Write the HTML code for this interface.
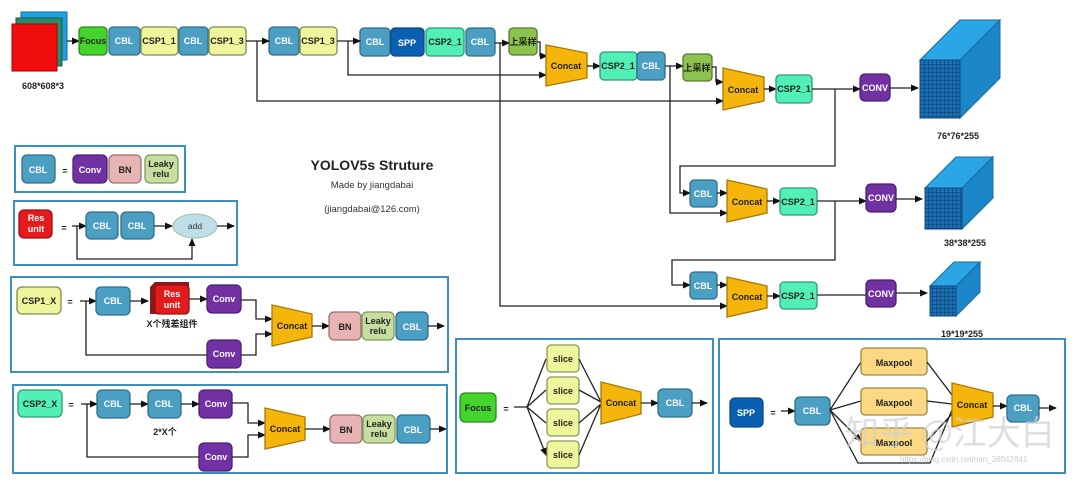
<!DOCTYPE html>
<html><head><meta charset="utf-8"><style>
html,body{margin:0;padding:0;background:#fff;}
svg{display:block;font-family:"Liberation Sans","Noto Sans CJK SC",sans-serif;}
.b{stroke-width:1.3;}
.cbl{fill:#4a9fc2;stroke:#2d6f8c;}
.csp1{fill:#eef59a;stroke:#7d8a55;}
.csp2{fill:#52efb6;stroke:#2e9a78;}
.spp{fill:#0b5fb0;stroke:#094a88;}
.foc{fill:#44d42c;stroke:#2b8a1c;}
.up{fill:#8cc34c;stroke:#557a2c;}
.cc{fill:#f6b50a;stroke:#a67a05;}
.cv{fill:#7131a2;stroke:#4e1f74;}
.bn{fill:#e7b3b3;stroke:#9a7272;}
.lk{fill:#c6dfa0;stroke:#7f9a60;}
.res{fill:#e31b1b;stroke:#9a1010;}
.mp{fill:#fbd881;stroke:#a08840;}
.sl{fill:#eff59c;stroke:#8a9a55;}
.w{fill:#fff;font-weight:bold;font-size:9px;text-anchor:middle;}
.k{fill:#222;font-weight:bold;font-size:9px;text-anchor:middle;}
.ln{stroke:#222;stroke-width:1.3;fill:none;}
.box{fill:none;stroke:#3a90c2;stroke-width:2;}
</style></head><body>
<svg width="1080" height="488" viewBox="0 0 1080 488" xmlns="http://www.w3.org/2000/svg">
<defs>
<marker id="a" markerWidth="8" markerHeight="8" refX="7" refY="4" orient="auto" markerUnits="userSpaceOnUse"><path d="M0,0.5 L8,4 L0,7.5z" fill="#111"/></marker>
<pattern id="g" width="4" height="4" patternUnits="userSpaceOnUse"><rect width="4" height="4" fill="#1a6fb0"/><path d="M0,0H4M0,0V4" stroke="#0b3a66" stroke-width="1"/></pattern>
</defs>

<!-- input image -->
<rect x="21" y="12" width="46" height="48" fill="#1e9fe0" stroke="#0d6aa0"/>
<rect x="16" y="18" width="46" height="48" fill="#2a8a6a" stroke="#1a5a44"/>
<rect x="12" y="24" width="45" height="47" fill="#f20d0d" stroke="#a00"/>
<text x="43" y="89" class="k" font-size="10">608*608*3</text>

<!-- main row -->
<g class="b">
<line x1="67" y1="41" x2="79" y2="41" class="ln" marker-end="url(#a)"/>
<rect x="79" y="27" width="28" height="28" rx="4" class="foc"/>
<rect x="109" y="27" width="31" height="28" rx="4" class="cbl"/>
<rect x="141" y="27" width="37" height="28" rx="4" class="csp1"/>
<rect x="179" y="27" width="29" height="28" rx="4" class="cbl"/>
<rect x="209" y="27" width="37" height="28" rx="4" class="csp1"/>
<rect x="269" y="27" width="30" height="28" rx="4" class="cbl"/>
<rect x="300" y="27" width="37" height="28" rx="4" class="csp1"/>
<rect x="360" y="28" width="30" height="28" rx="4" class="cbl"/>
<rect x="391" y="28" width="33" height="28" rx="4" class="spp"/>
<rect x="426" y="28" width="38" height="28" rx="4" class="csp2"/>
<rect x="466" y="28" width="29" height="28" rx="4" class="cbl"/>
<rect x="509" y="28" width="28" height="27" rx="4" class="up"/>
</g>
<text x="93" y="44" class="k" font-size="7">Focus</text>
<text x="124" y="44" class="w">CBL</text>
<text x="159" y="44" class="k">CSP1_1</text>
<text x="193" y="44" class="w">CBL</text>
<text x="227" y="44" class="k">CSP1_3</text>
<text x="284" y="44" class="w">CBL</text>
<text x="318" y="44" class="k">CSP1_3</text>
<text x="375" y="45" class="w">CBL</text>
<text x="407" y="46" class="w" font-size="11">SPP</text>
<text x="445" y="45" class="k">CSP2_1</text>
<text x="480" y="45" class="w">CBL</text>
<text x="523" y="45" class="k" font-size="8">上采样</text>

<path d="M246,41H269" class="ln" marker-end="url(#a)"/>
<path d="M337,41H360" class="ln" marker-end="url(#a)"/>
<path d="M495,43H509" class="ln" marker-end="url(#a)"/>
<path d="M257,41V101H723" class="ln" marker-end="url(#a)"/>
<path d="M348,41V75H546" class="ln" marker-end="url(#a)"/>
<path d="M500,43V306H727" class="ln" marker-end="url(#a)"/>
<path d="M537,42H540V56H547" class="ln" marker-end="url(#a)"/>

<!-- concat1 -->
<polygon points="546,45 587,53 587,78 546,86" class="cc b"/>
<text x="566" y="69" class="k" font-size="8.5">Concat</text>
<path d="M587,66H600" class="ln" marker-end="url(#a)"/>
<rect x="600" y="52" width="37" height="28" rx="4" class="csp2 b"/>
<rect x="637" y="52" width="28" height="28" rx="4" class="cbl b"/>
<text x="618" y="69" class="k">CSP2_1</text>
<text x="651" y="69" class="w">CBL</text>
<path d="M665,66H683" class="ln" marker-end="url(#a)"/>
<path d="M670,66V213H727" class="ln" marker-end="url(#a)"/>
<rect x="683" y="54" width="29" height="27" rx="4" class="up b"/>
<text x="697" y="71" class="k" font-size="8">上采样</text>
<path d="M712,67H716V82H723" class="ln" marker-end="url(#a)"/>

<!-- concat2 -->
<polygon points="723,68 764,77 764,101 723,110" class="cc b"/>
<text x="743" y="93" class="k" font-size="8.5">Concat</text>
<path d="M764,89H776" class="ln" marker-end="url(#a)"/>
<rect x="776" y="75" width="36" height="28" rx="4" class="csp2 b"/>
<text x="794" y="92" class="k">CSP2_1</text>
<path d="M812,89H860" class="ln" marker-end="url(#a)"/>
<path d="M835,89V166H680V193H690" class="ln" marker-end="url(#a)"/>
<rect x="860" y="74" width="30" height="27" rx="5" class="cv b"/>
<text x="875" y="91" class="w" font-size="7.5">CONV</text>
<path d="M890,88H918" class="ln" marker-end="url(#a)"/>

<!-- cube1 -->
<polygon points="920,60 960,60 1000,20 960,20" fill="#2aa6e6" stroke="#1a6a9a"/>
<polygon points="960,60 1000,20 1000,78 960,118" fill="#1b86c8" stroke="#1a6a9a"/>
<rect x="920" y="60" width="40" height="58" fill="url(#g)" stroke="#0d4a80"/>
<text x="958" y="139" class="k" font-size="10">76*76*255</text>

<!-- row2 -->
<rect x="690" y="180" width="27" height="27" rx="4" class="cbl b"/>
<text x="703" y="197" class="w">CBL</text>
<path d="M717,193H727" class="ln" marker-end="url(#a)"/>
<polygon points="727,180 767,189 767,213 727,222" class="cc b"/>
<text x="747" y="205" class="k" font-size="8.5">Concat</text>
<path d="M767,201H780" class="ln" marker-end="url(#a)"/>
<rect x="780" y="188" width="37" height="27" rx="4" class="csp2 b"/>
<text x="798" y="205" class="k">CSP2_1</text>
<path d="M817,201H866" class="ln" marker-end="url(#a)"/>
<path d="M835,201V260H672V285H690" class="ln" marker-end="url(#a)"/>
<rect x="866" y="184" width="30" height="28" rx="5" class="cv b"/>
<text x="881" y="201" class="w" font-size="7.5">CONV</text>
<path d="M896,199H922" class="ln" marker-end="url(#a)"/>
<polygon points="925,188 962,188 993,157 956,157" fill="#2aa6e6" stroke="#1a6a9a"/>
<polygon points="962,188 993,157 993,198 962,229" fill="#1b86c8" stroke="#1a6a9a"/>
<rect x="925" y="188" width="37" height="41" fill="url(#g)" stroke="#0d4a80"/>
<text x="965" y="246" class="k" font-size="10">38*38*255</text>

<!-- row3 -->
<rect x="690" y="272" width="27" height="27" rx="4" class="cbl b"/>
<text x="703" y="289" class="w">CBL</text>
<path d="M717,285H727" class="ln" marker-end="url(#a)"/>
<polygon points="727,277 767,286 767,308 727,317" class="cc b"/>
<text x="747" y="300" class="k" font-size="8.5">Concat</text>
<path d="M767,296H780" class="ln" marker-end="url(#a)"/>
<rect x="780" y="282" width="37" height="27" rx="4" class="csp2 b"/>
<text x="798" y="299" class="k">CSP2_1</text>
<path d="M817,295H866" class="ln"/>
<rect x="866" y="280" width="30" height="27" rx="5" class="cv b"/>
<text x="881" y="297" class="w" font-size="7.5">CONV</text>
<path d="M896,293H927" class="ln" marker-end="url(#a)"/>
<polygon points="930,286 956,286 980,262 954,262" fill="#2aa6e6" stroke="#1a6a9a"/>
<polygon points="956,286 980,262 980,292 956,316" fill="#1b86c8" stroke="#1a6a9a"/>
<rect x="930" y="286" width="26" height="30" fill="url(#g)" stroke="#0d4a80"/>
<text x="962" y="337" class="k" font-size="10">19*19*255</text>

<!-- title -->
<text x="372" y="170" font-size="14" font-weight="bold" text-anchor="middle" fill="#222">YOLOV5s Struture</text>
<text x="372" y="188" font-size="9.5" text-anchor="middle" fill="#333">Made by jiangdabai</text>
<text x="372" y="212" font-size="9.5" text-anchor="middle" fill="#333">(jiangdabai@126.com)</text>

<!-- CBL legend -->
<rect x="15" y="146" width="170" height="46" class="box"/>
<g class="b">
<rect x="22" y="155" width="33" height="28" rx="5" class="cbl"/>
<rect x="73" y="155" width="34" height="28" rx="5" class="cv"/>
<rect x="109" y="155" width="32" height="28" rx="5" class="bn"/>
<rect x="145" y="155" width="33" height="28" rx="5" class="lk"/>
</g>
<text x="38" y="173" class="w">CBL</text>
<text x="65" y="174" class="k" font-size="14">=</text>
<text x="90" y="173" class="w" font-size="10">Conv</text>
<text x="125" y="173" class="k" font-size="10">BN</text>
<text x="161" y="167" class="k" font-size="8">Leaky</text>
<text x="161" y="177" class="k" font-size="8">relu</text>

<!-- Res unit -->
<rect x="14" y="201" width="223" height="64" class="box"/>
<rect x="19" y="210" width="33" height="28" rx="5" class="res b"/>
<text x="36" y="221" class="w">Res</text>
<text x="36" y="232" class="w">unit</text>
<text x="64" y="231" class="k" font-size="14">=</text>
<path d="M72,226H86" class="ln" marker-end="url(#a)"/>
<rect x="86" y="212" width="32" height="27" rx="5" class="cbl b"/>
<rect x="121" y="212" width="33" height="27" rx="5" class="cbl b"/>
<text x="102" y="229" class="w">CBL</text>
<text x="137" y="229" class="w">CBL</text>
<path d="M154,226H172" class="ln" marker-end="url(#a)"/>
<ellipse cx="195" cy="226" rx="22" ry="12" fill="#bfdfe8" stroke="#9cc0a0"/>
<text x="195" y="229" font-size="8.5" text-anchor="middle" fill="#333">add</text>
<path d="M217,226H234" class="ln" marker-end="url(#a)"/>
<path d="M77,226V259H192V239" class="ln" marker-end="url(#a)"/>

<!-- CSP1_X -->
<rect x="11" y="277" width="437" height="95" class="box"/>
<rect x="17" y="287" width="44" height="27" rx="5" class="csp1 b"/>
<text x="39" y="304" class="k">CSP1_X</text>
<text x="70" y="305" class="k" font-size="14">=</text>
<path d="M80,301H96" class="ln" marker-end="url(#a)"/>
<rect x="96" y="287" width="34" height="28" rx="5" class="cbl b"/>
<text x="113" y="304" class="w">CBL</text>
<path d="M130,301H148" class="ln" marker-end="url(#a)"/>
<polygon points="150,287 155,282 189,282 189,309 184,314 150,314" fill="#8a1a22"/>
<rect x="155" y="285" width="34" height="29" rx="4" class="res b"/>
<text x="172" y="297" class="w">Res</text>
<text x="172" y="308" class="w">unit</text>
<text x="172" y="327" class="k">X个残差组件</text>
<path d="M189,299H207" class="ln" marker-end="url(#a)"/>
<rect x="207" y="285" width="34" height="28" rx="5" class="cv b"/>
<text x="224" y="302" class="w" font-size="10">Conv</text>
<rect x="207" y="340" width="34" height="28" rx="5" class="cv b"/>
<text x="224" y="357" class="w" font-size="10">Conv</text>
<path d="M86,301V355H207" class="ln"/>
<path d="M241,300H256V319H272" class="ln" marker-end="url(#a)"/>
<path d="M241,355H256V334H272" class="ln" marker-end="url(#a)"/>
<polygon points="272,305 312,314 312,337 272,346" class="cc b"/>
<text x="292" y="329" class="k" font-size="8.5">Concat</text>
<path d="M312,326H329" class="ln" marker-end="url(#a)"/>
<g class="b">
<rect x="329" y="312" width="32" height="28" rx="5" class="bn"/>
<rect x="362" y="312" width="32" height="28" rx="5" class="lk"/>
<rect x="396" y="312" width="32" height="28" rx="5" class="cbl"/>
</g>
<text x="345" y="330" class="k" font-size="10">BN</text>
<text x="378" y="324" class="k" font-size="8">Leaky</text>
<text x="378" y="334" class="k" font-size="8">relu</text>
<text x="412" y="330" class="w">CBL</text>
<path d="M428,326H444" class="ln" marker-end="url(#a)"/>

<!-- CSP2_X -->
<rect x="13" y="385" width="434" height="88" class="box"/>
<rect x="18" y="390" width="44" height="27" rx="5" class="csp2 b"/>
<text x="40" y="407" class="k">CSP2_X</text>
<text x="71" y="408" class="k" font-size="14">=</text>
<path d="M81,404H97" class="ln" marker-end="url(#a)"/>
<rect x="97" y="390" width="33" height="28" rx="5" class="cbl b"/>
<text x="113" y="407" class="w">CBL</text>
<path d="M130,404H148" class="ln" marker-end="url(#a)"/>
<rect x="148" y="390" width="33" height="28" rx="5" class="cbl b"/>
<text x="164" y="407" class="w">CBL</text>
<text x="165" y="435" class="k">2*X个</text>
<path d="M181,404H199" class="ln" marker-end="url(#a)"/>
<rect x="199" y="390" width="33" height="28" rx="5" class="cv b"/>
<text x="216" y="407" class="w" font-size="10">Conv</text>
<rect x="199" y="443" width="33" height="28" rx="5" class="cv b"/>
<text x="216" y="460" class="w" font-size="10">Conv</text>
<path d="M87,404V457H199" class="ln"/>
<path d="M232,403H248V423H265" class="ln" marker-end="url(#a)"/>
<path d="M232,457H248V435H265" class="ln" marker-end="url(#a)"/>
<polygon points="265,408 305,417 305,440 265,449" class="cc b"/>
<text x="285" y="432" class="k" font-size="8.5">Concat</text>
<path d="M305,429H330" class="ln" marker-end="url(#a)"/>
<g class="b">
<rect x="330" y="415" width="32" height="28" rx="5" class="bn"/>
<rect x="363" y="415" width="32" height="28" rx="5" class="lk"/>
<rect x="397" y="415" width="33" height="28" rx="5" class="cbl"/>
</g>
<text x="346" y="433" class="k" font-size="10">BN</text>
<text x="379" y="427" class="k" font-size="8">Leaky</text>
<text x="379" y="437" class="k" font-size="8">relu</text>
<text x="413" y="433" class="w">CBL</text>
<path d="M430,429H446" class="ln" marker-end="url(#a)"/>

<!-- Focus box -->
<rect x="456" y="339" width="257" height="134" class="box"/>
<rect x="460" y="393" width="36" height="29" rx="5" class="foc b"/>
<text x="478" y="411" class="k">Focus</text>
<text x="506" y="412" class="k" font-size="14">=</text>
<path d="M514,407H527" class="ln"/>
<path d="M527,407L546,359M527,407L546,390M527,407L546,423M527,407L546,455" class="ln" marker-end="url(#a)"/>
<g class="b">
<rect x="547" y="345" width="32" height="27" rx="4" class="sl"/>
<rect x="547" y="377" width="32" height="27" rx="4" class="sl"/>
<rect x="547" y="409" width="32" height="27" rx="4" class="sl"/>
<rect x="547" y="441" width="32" height="27" rx="4" class="sl"/>
</g>
<text x="563" y="362" class="k" font-size="10">slice</text>
<text x="563" y="394" class="k" font-size="10">slice</text>
<text x="563" y="426" class="k" font-size="10">slice</text>
<text x="563" y="458" class="k" font-size="10">slice</text>
<path d="M579,359L601,402M579,390L601,402M579,423L601,404M579,455L601,404" class="ln"/>
<polygon points="601,382 641,392 641,414 601,424" class="cc b"/>
<text x="621" y="406" class="k" font-size="8">Concat</text>
<path d="M641,403H658" class="ln" marker-end="url(#a)"/>
<rect x="658" y="389" width="34" height="28" rx="5" class="cbl b"/>
<text x="675" y="406" class="w">CBL</text>
<path d="M692,403H707" class="ln" marker-end="url(#a)"/>

<!-- SPP box -->
<rect x="719" y="339" width="346" height="134" class="box"/>
<rect x="730" y="398" width="33" height="29" rx="5" class="spp b"/>
<text x="746" y="416" class="w">SPP</text>
<text x="773" y="416" class="k" font-size="14">=</text>
<path d="M781,411H795" class="ln" marker-end="url(#a)"/>
<rect x="795" y="397" width="35" height="28" rx="5" class="cbl b"/>
<text x="812" y="414" class="w">CBL</text>
<path d="M830,410L861,362M830,410L861,401M830,410L861,441" class="ln" marker-end="url(#a)"/>
<path d="M830,410L858,463H930L952,410" class="ln"/>
<g class="b">
<rect x="861" y="348" width="66" height="27" rx="4" class="mp"/>
<rect x="861" y="388" width="66" height="27" rx="4" class="mp"/>
<rect x="861" y="428" width="66" height="27" rx="4" class="mp"/>
</g>
<text x="894" y="366" class="k" font-size="10.5">Maxpool</text>
<text x="894" y="406" class="k" font-size="10.5">Maxpool</text>
<text x="894" y="446" class="k" font-size="10.5">Maxpool</text>
<path d="M927,362L952,395M927,401L952,404M927,441L952,414" class="ln"/>
<polygon points="952,383 993,393 993,417 952,427" class="cc b"/>
<text x="972" y="408" class="k" font-size="8">Concat</text>
<path d="M993,406H1007" class="ln" marker-end="url(#a)"/>
<rect x="1007" y="395" width="32" height="27" rx="5" class="cbl b"/>
<text x="1023" y="411" class="w">CBL</text>
<path d="M1039,408H1056" class="ln" marker-end="url(#a)"/>

<!-- watermark -->
<text x="845" y="445" font-size="34" fill="#d0d0d0" fill-opacity="0.7" font-family="Noto Sans CJK SC, sans-serif">知乎 @江大白</text>
<text x="900" y="462" font-size="8" fill="#ccc">https://blog.csdn.net/nan_38042841</text>
</svg>
</body></html>
